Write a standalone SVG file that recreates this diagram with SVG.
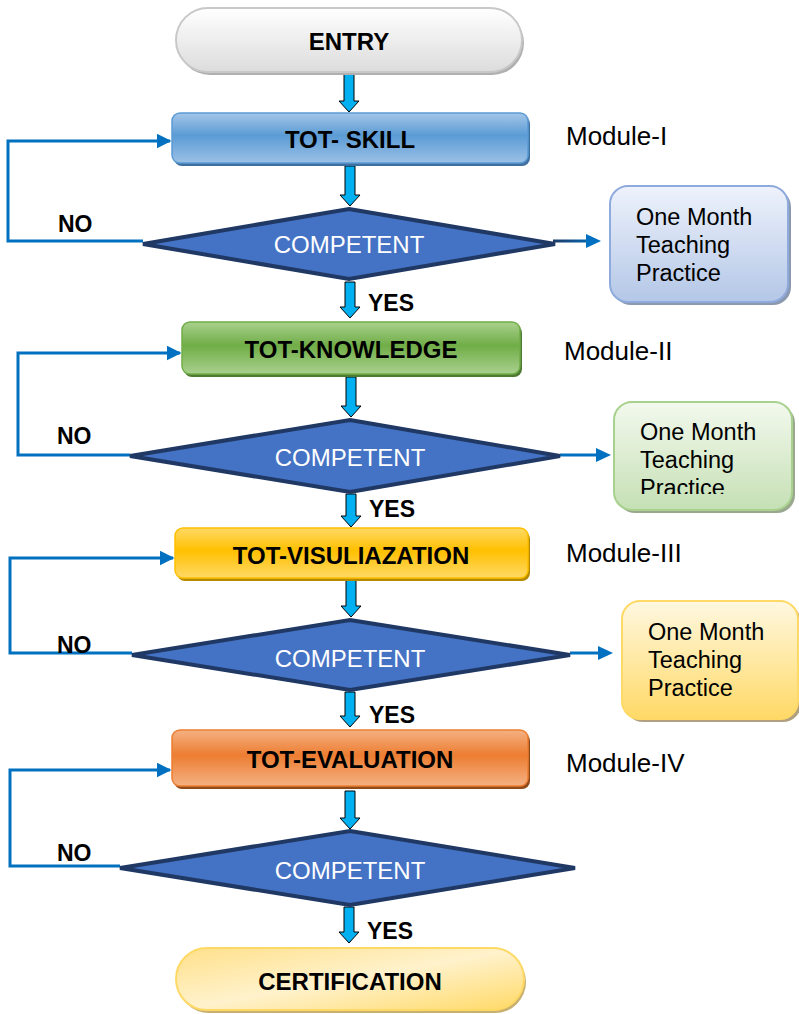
<svg xmlns="http://www.w3.org/2000/svg" width="799" height="1014" viewBox="0 0 799 1014">
<defs>
<linearGradient id="gEntry" x1="0" y1="0" x2="0" y2="1"><stop offset="0" stop-color="#ffffff"/><stop offset="1" stop-color="#dcdcdc"/></linearGradient>
<linearGradient id="gBlue" x1="0" y1="0" x2="0" y2="1"><stop offset="0" stop-color="#a4c6e8"/><stop offset="0.45" stop-color="#5b9bd5"/><stop offset="1" stop-color="#9cc1e6"/></linearGradient>
<linearGradient id="gGreen" x1="0" y1="0" x2="0" y2="1"><stop offset="0" stop-color="#a9d18e"/><stop offset="0.45" stop-color="#70ad47"/><stop offset="1" stop-color="#a9d18e"/></linearGradient>
<linearGradient id="gYellow" x1="0" y1="0" x2="0" y2="1"><stop offset="0" stop-color="#ffd966"/><stop offset="0.45" stop-color="#ffc000"/><stop offset="1" stop-color="#ffd966"/></linearGradient>
<linearGradient id="gOrange" x1="0" y1="0" x2="0" y2="1"><stop offset="0" stop-color="#f4b183"/><stop offset="0.45" stop-color="#ed7d31"/><stop offset="1" stop-color="#f4b183"/></linearGradient>
<linearGradient id="gPBlue" x1="0" y1="0" x2="0" y2="1"><stop offset="0" stop-color="#eef2fb"/><stop offset="1" stop-color="#b4c7e7"/></linearGradient>
<linearGradient id="gPGreen" x1="0" y1="0" x2="0" y2="1"><stop offset="0" stop-color="#f3f9ee"/><stop offset="1" stop-color="#c5e0b4"/></linearGradient>
<linearGradient id="gPYellow" x1="0" y1="0" x2="0" y2="1"><stop offset="0" stop-color="#fff8e1"/><stop offset="1" stop-color="#ffd966"/></linearGradient>
<linearGradient id="gCert" x1="0" y1="0" x2="1" y2="1"><stop offset="0" stop-color="#ffe08a"/><stop offset="0.5" stop-color="#fff2cc"/><stop offset="1" stop-color="#ffd966"/></linearGradient>
<linearGradient id="gLine" gradientUnits="userSpaceOnUse" x1="550" y1="0" x2="600" y2="0"><stop offset="0" stop-color="#1f3864"/><stop offset="1" stop-color="#0070c0"/></linearGradient>
<marker id="ah" viewBox="0 0 10 10" refX="9" refY="5" markerWidth="5" markerHeight="5" orient="auto" markerUnits="strokeWidth"><path d="M0,0 L10,5 L0,10 z" fill="#0070c0"/></marker>
<clipPath id="clipP2"><rect x="614" y="402" width="178" height="92"/></clipPath>
<style>
.lbl{font-family:"Liberation Sans",Arial,sans-serif;font-weight:bold;font-size:24px;fill:#000;text-anchor:middle;dominant-baseline:central}
.dtx{font-family:"Liberation Sans",Arial,sans-serif;font-size:24px;fill:#fff;text-anchor:middle;dominant-baseline:central}
.mod{font-family:"Liberation Sans",Arial,sans-serif;font-size:26px;fill:#000}
.yn{font-family:"Liberation Sans",Arial,sans-serif;font-weight:bold;font-size:23px;fill:#000}
.prac{font-family:"Liberation Sans",Arial,sans-serif;font-size:23.5px;fill:#000}
.dia{fill:#4472c4;stroke:#203864;stroke-width:4;stroke-linejoin:miter}
.blk{fill:#00b0f0;stroke:#000;stroke-width:1}
.loop{fill:none;stroke:#0070c0;stroke-width:3;marker-end:url(#ah)}
</style>
</defs>

<!-- connectors -->
<g id="connectors">
<path class="blk" d="M344,73 H354 V101 H359 L349,112 L339,101 H344 Z"/>
<path class="blk" d="M345,166 H355 V195 H360 L350,206 L340,195 H345 Z"/>
<path class="blk" d="M345,282 H355 V307 H360 L350,318 L340,307 H345 Z"/>
<path class="blk" d="M346,377 H356 V406 H361 L351,417 L341,406 H346 Z"/>
<path class="blk" d="M346,494 H356 V516 H361 L351,527 L341,516 H346 Z"/>
<path class="blk" d="M346,580 H356 V606 H361 L351,617 L341,606 H346 Z"/>
<path class="blk" d="M345,692 H355 V716 H360 L350,727 L340,716 H345 Z"/>
<path class="blk" d="M345,791 H355 V818 H360 L350,829 L340,818 H345 Z"/>
<path class="blk" d="M344,907 H354 V932 H359 L349,943 L339,932 H344 Z"/>

<path class="loop" d="M143,241 H8 V141 H170"/>
<path class="loop" d="M130,455 H18 V353 H180"/>
<path class="loop" d="M132,653 H10 V558 H173"/>
<path class="loop" d="M120,866 H10 V770 H170"/>

<path d="M553,241 H590" stroke="url(#gLine)" stroke-width="3" fill="none"/>
<path d="M586,234 L601,241 L586,248 Z" fill="#0070c0"/>
<path d="M560,455 H598" stroke="#0070c0" stroke-width="3" fill="none"/>
<path d="M596,448 L611,455 L596,462 Z" fill="#0070c0"/>
<path d="M570,653 H600" stroke="#0070c0" stroke-width="3" fill="none"/>
<path d="M598,646 L613,653 L598,660 Z" fill="#0070c0"/>

<text class="yn" x="58" y="232">NO</text>
<text class="yn" x="57" y="444">NO</text>
<text class="yn" x="57" y="653">NO</text>
<text class="yn" x="57" y="861">NO</text>
<text class="yn" x="368" y="311">YES</text>
<text class="yn" x="369" y="517">YES</text>
<text class="yn" x="369" y="723">YES</text>
<text class="yn" x="367" y="939">YES</text>
</g>

<g id="entry">
<rect x="178" y="11" width="346" height="64" rx="32" fill="#b0b0b0"/>
<rect x="176" y="8" width="346" height="64" rx="32" fill="url(#gEntry)" stroke="#c8c8c8" stroke-width="2"/>
<text class="lbl" x="349" y="41">ENTRY</text>
</g>

<g id="skill">
<rect x="174" y="116" width="356" height="50" rx="8" fill="#3f6f9e"/>
<rect x="172" y="113" width="356" height="50" rx="8" fill="url(#gBlue)" stroke="#5b9bd5" stroke-width="1.5"/>
<text class="lbl" x="350" y="139">TOT- SKILL</text>
</g>
<text id="mod1" class="mod" x="566" y="145">Module-I</text>

<g id="dec1">
<polygon class="dia" points="349,209 555,244 349,279 143,244"/>
<text class="dtx" x="349" y="244">COMPETENT</text>
</g>

<g id="prac1">
<rect x="613" y="189" width="178" height="116" rx="18" fill="#8a98b0"/>
<rect x="610" y="186" width="178" height="116" rx="18" fill="url(#gPBlue)" stroke="#8faadc" stroke-width="2"/>
<text class="prac" x="636" y="225">One Month</text>
<text class="prac" x="636" y="253">Teaching</text>
<text class="prac" x="636" y="281">Practice</text>
</g>

<g id="knowledge">
<rect x="184" y="325" width="338" height="52" rx="8" fill="#4e7a31"/>
<rect x="182" y="322" width="338" height="52" rx="8" fill="url(#gGreen)" stroke="#70ad47" stroke-width="1.5"/>
<text class="lbl" x="351" y="349">TOT-KNOWLEDGE</text>
</g>
<text id="mod2" class="mod" x="564" y="360">Module-II</text>

<g id="dec2">
<polygon class="dia" points="350,420 560,456 350,492 130,456"/>
<text class="dtx" x="350" y="457">COMPETENT</text>
</g>

<g id="prac2">
<rect x="617" y="405" width="178" height="108" rx="18" fill="#9aa890"/>
<rect x="614" y="402" width="178" height="108" rx="18" fill="url(#gPGreen)" stroke="#a9d18e" stroke-width="2"/>
<g clip-path="url(#clipP2)">
<text class="prac" x="640" y="440">One Month</text>
<text class="prac" x="640" y="468">Teaching</text>
<text class="prac" x="640" y="496">Practice</text>
</g>
</g>

<g id="visualization">
<rect x="177" y="531" width="353" height="50" rx="8" fill="#b58a00"/>
<rect x="175" y="528" width="353" height="50" rx="8" fill="url(#gYellow)" stroke="#ffc000" stroke-width="1.5"/>
<text class="lbl" x="351" y="555">TOT-VISULIAZATION</text>
</g>
<text id="mod3" class="mod" x="566" y="562">Module-III</text>

<g id="dec3">
<polygon class="dia" points="350,620 570,655 350,690 132,655"/>
<text class="dtx" x="350" y="658">COMPETENT</text>
</g>

<g id="prac3">
<rect x="625" y="604" width="176" height="118" rx="18" fill="#b0a080"/>
<rect x="622" y="601" width="176" height="118" rx="18" fill="url(#gPYellow)" stroke="#ffd966" stroke-width="2"/>
<text class="prac" x="648" y="640">One Month</text>
<text class="prac" x="648" y="668">Teaching</text>
<text class="prac" x="648" y="696">Practice</text>
</g>

<g id="evaluation">
<rect x="174" y="733" width="356" height="56" rx="8" fill="#8f4a1a"/>
<rect x="172" y="730" width="356" height="56" rx="8" fill="url(#gOrange)" stroke="#ed7d31" stroke-width="1.5"/>
<text class="lbl" x="350" y="759">TOT-EVALUATION</text>
</g>
<text id="mod4" class="mod" x="566" y="772">Module-IV</text>

<g id="dec4">
<polygon class="dia" points="350,831 575,868 350,905 120,868"/>
<text class="dtx" x="350" y="870">COMPETENT</text>
</g>

<g id="certification">
<rect x="178" y="951" width="348" height="62" rx="31" fill="#c8b070"/>
<rect x="176" y="948" width="348" height="62" rx="31" fill="url(#gCert)" stroke="#ffd966" stroke-width="2"/>
<text class="lbl" x="350" y="981">CERTIFICATION</text>
</g>
</svg>
